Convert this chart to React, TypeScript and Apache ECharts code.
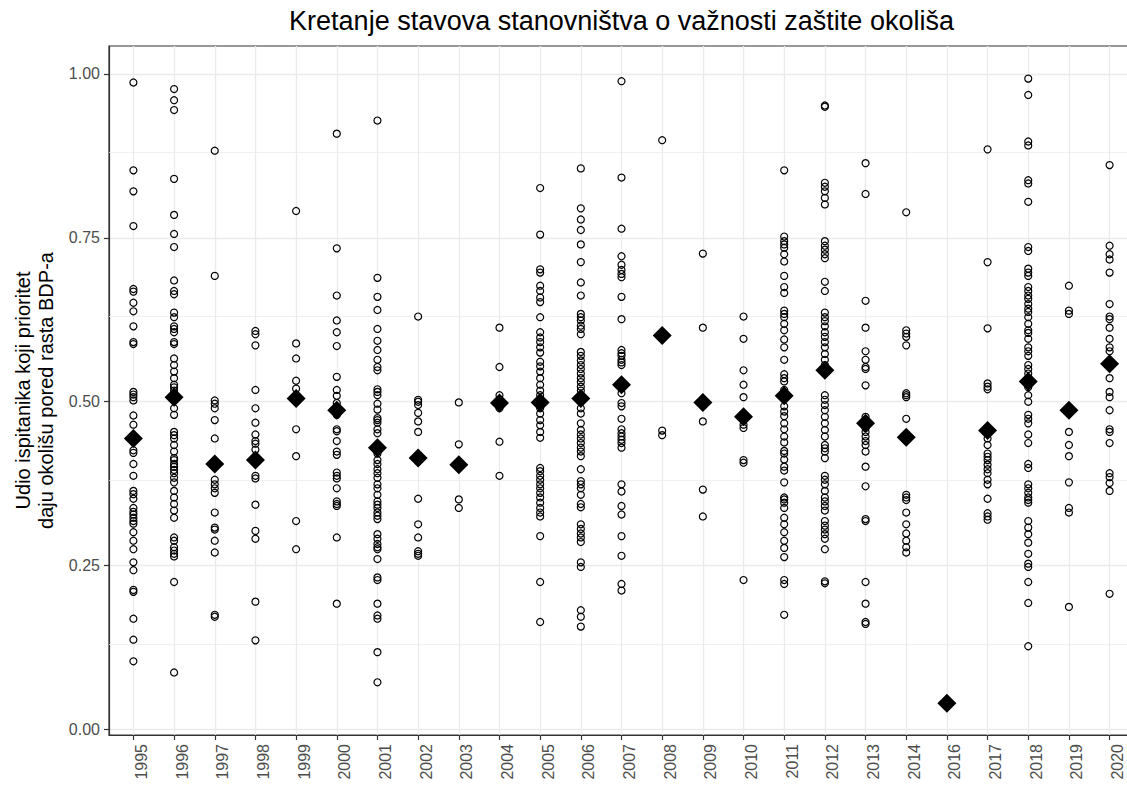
import React, { useEffect, useRef } from "react";
import * as echarts from "echarts";

const FONT = "'Liberation Sans', Arial, Helvetica, sans-serif";

const titleText = "Kretanje stavova stanovništva o važnosti zaštite okoliša";
const yAxisTitle = "Udio ispitanika koji prioritet\ndaju okolišu pored rasta BDP-a";

const years = [
  "1995", "1996", "1997", "1998", "1999", "2000", "2001", "2002", "2003", "2004",
  "2005", "2006", "2007", "2008", "2009", "2010", "2011", "2012", "2013", "2014",
  "2016", "2017", "2018", "2019", "2020",
];
const yTicks = [0, 0.25, 0.5, 0.75, 1];
const yMinor = [0.125, 0.375, 0.625, 0.875];

// mean per year (filled diamonds)
const means = [
  0.444, 0.507, 0.405, 0.411, 0.505, 0.487, 0.43, 0.414, 0.404, 0.498,
  0.499, 0.505, 0.526, 0.601, 0.499, 0.477, 0.509, 0.548, 0.467, 0.446,
  0.04, 0.456, 0.531, 0.487, 0.558,
];

// individual observations (open circles)
const v1995 = [0.987, 0.853, 0.821, 0.768, 0.672, 0.668, 0.651, 0.638, 0.615, 0.591, 0.588, 0.515, 0.511, 0.507, 0.502, 0.479, 0.465, 0.426, 0.422, 0.405, 0.387, 0.364, 0.359, 0.352, 0.338, 0.332, 0.328, 0.323, 0.318, 0.314, 0.301, 0.288, 0.275, 0.255, 0.243, 0.213, 0.21, 0.169, 0.137, 0.104];
const v1996 = [0.977, 0.96, 0.945, 0.84, 0.785, 0.756, 0.736, 0.685, 0.669, 0.664, 0.636, 0.629, 0.615, 0.611, 0.606, 0.591, 0.588, 0.566, 0.556, 0.546, 0.536, 0.526, 0.522, 0.517, 0.511, 0.49, 0.48, 0.454, 0.449, 0.444, 0.434, 0.424, 0.414, 0.411, 0.405, 0.401, 0.396, 0.391, 0.384, 0.377, 0.364, 0.354, 0.344, 0.334, 0.323, 0.293, 0.288, 0.278, 0.273, 0.268, 0.264, 0.225, 0.087];
const v1997 = [0.883, 0.692, 0.502, 0.497, 0.49, 0.472, 0.444, 0.381, 0.374, 0.368, 0.361, 0.331, 0.308, 0.305, 0.288, 0.27, 0.175, 0.172];
const v1998 = [0.608, 0.603, 0.586, 0.518, 0.49, 0.468, 0.45, 0.44, 0.436, 0.427, 0.387, 0.383, 0.343, 0.303, 0.291, 0.195, 0.136];
const v1999 = [0.791, 0.589, 0.566, 0.532, 0.52, 0.51, 0.458, 0.417, 0.318, 0.275];
const v2000 = [0.909, 0.734, 0.662, 0.624, 0.606, 0.585, 0.538, 0.518, 0.509, 0.498, 0.49, 0.48, 0.458, 0.455, 0.44, 0.424, 0.419, 0.392, 0.387, 0.383, 0.368, 0.348, 0.344, 0.341, 0.293, 0.192];
const v2001 = [0.929, 0.689, 0.66, 0.64, 0.611, 0.593, 0.579, 0.564, 0.553, 0.548, 0.519, 0.515, 0.51, 0.497, 0.488, 0.475, 0.472, 0.468, 0.458, 0.452, 0.421, 0.411, 0.405, 0.397, 0.391, 0.384, 0.374, 0.368, 0.358, 0.348, 0.343, 0.338, 0.331, 0.326, 0.321, 0.298, 0.291, 0.283, 0.278, 0.275, 0.26, 0.232, 0.228, 0.192, 0.174, 0.169, 0.118, 0.072];
const v2002 = [0.63, 0.503, 0.5, 0.495, 0.483, 0.47, 0.454, 0.352, 0.313, 0.293, 0.272, 0.268, 0.265];
const v2003 = [0.499, 0.435, 0.351, 0.338];
const v2004 = [0.613, 0.553, 0.51, 0.503, 0.49, 0.439, 0.387];
const v2005 = [0.826, 0.755, 0.702, 0.697, 0.677, 0.669, 0.659, 0.652, 0.629, 0.606, 0.598, 0.591, 0.583, 0.575, 0.561, 0.554, 0.546, 0.536, 0.526, 0.517, 0.51, 0.49, 0.482, 0.472, 0.464, 0.454, 0.445, 0.399, 0.394, 0.387, 0.381, 0.374, 0.368, 0.361, 0.354, 0.346, 0.338, 0.331, 0.325, 0.295, 0.225, 0.164];
const v2006 = [0.856, 0.795, 0.778, 0.762, 0.74, 0.713, 0.682, 0.662, 0.634, 0.629, 0.624, 0.616, 0.611, 0.603, 0.576, 0.57, 0.563, 0.556, 0.55, 0.543, 0.536, 0.53, 0.523, 0.517, 0.51, 0.49, 0.482, 0.467, 0.457, 0.45, 0.444, 0.437, 0.43, 0.424, 0.417, 0.397, 0.379, 0.374, 0.368, 0.358, 0.344, 0.339, 0.313, 0.306, 0.299, 0.293, 0.286, 0.255, 0.248, 0.182, 0.172, 0.157];
const v2007 = [0.989, 0.842, 0.764, 0.722, 0.709, 0.701, 0.695, 0.69, 0.66, 0.626, 0.579, 0.574, 0.57, 0.564, 0.56, 0.556, 0.513, 0.498, 0.493, 0.474, 0.458, 0.452, 0.447, 0.442, 0.437, 0.43, 0.374, 0.363, 0.341, 0.328, 0.295, 0.265, 0.222, 0.212];
const v2008 = [0.899, 0.456, 0.449];
const v2009 = [0.726, 0.613, 0.47, 0.366, 0.325];
const v2010 = [0.63, 0.596, 0.548, 0.526, 0.507, 0.465, 0.46, 0.411, 0.407, 0.228];
const v2011 = [0.853, 0.752, 0.745, 0.74, 0.735, 0.725, 0.714, 0.692, 0.675, 0.666, 0.639, 0.634, 0.629, 0.619, 0.609, 0.595, 0.583, 0.564, 0.542, 0.536, 0.531, 0.518, 0.51, 0.493, 0.485, 0.478, 0.467, 0.458, 0.447, 0.438, 0.425, 0.421, 0.412, 0.401, 0.395, 0.377, 0.354, 0.351, 0.346, 0.338, 0.323, 0.313, 0.301, 0.288, 0.277, 0.263, 0.228, 0.222, 0.175];
const v2012 = [0.952, 0.95, 0.834, 0.828, 0.821, 0.811, 0.801, 0.745, 0.738, 0.732, 0.725, 0.719, 0.683, 0.669, 0.636, 0.629, 0.623, 0.615, 0.606, 0.599, 0.591, 0.583, 0.573, 0.564, 0.556, 0.51, 0.503, 0.495, 0.487, 0.477, 0.467, 0.457, 0.447, 0.434, 0.429, 0.424, 0.414, 0.387, 0.381, 0.374, 0.364, 0.354, 0.348, 0.341, 0.334, 0.318, 0.311, 0.305, 0.298, 0.291, 0.275, 0.226, 0.223];
const v2013 = [0.864, 0.817, 0.654, 0.613, 0.577, 0.564, 0.553, 0.55, 0.525, 0.477, 0.469, 0.46, 0.454, 0.447, 0.44, 0.434, 0.424, 0.401, 0.371, 0.321, 0.318, 0.225, 0.192, 0.164, 0.161];
const v2014 = [0.789, 0.609, 0.604, 0.599, 0.586, 0.513, 0.51, 0.507, 0.474, 0.358, 0.354, 0.35, 0.331, 0.313, 0.299, 0.288, 0.278, 0.27];
const v2016: number[] = [];
const v2017 = [0.885, 0.713, 0.612, 0.528, 0.523, 0.519, 0.444, 0.434, 0.421, 0.416, 0.411, 0.404, 0.397, 0.391, 0.381, 0.374, 0.352, 0.33, 0.325, 0.32];
const v2018 = [0.993, 0.968, 0.897, 0.891, 0.838, 0.833, 0.805, 0.736, 0.73, 0.703, 0.697, 0.692, 0.675, 0.669, 0.662, 0.657, 0.649, 0.642, 0.637, 0.629, 0.619, 0.609, 0.605, 0.596, 0.583, 0.577, 0.57, 0.556, 0.55, 0.543, 0.522, 0.51, 0.5, 0.48, 0.474, 0.467, 0.45, 0.437, 0.405, 0.399, 0.374, 0.368, 0.361, 0.354, 0.35, 0.346, 0.318, 0.308, 0.298, 0.285, 0.268, 0.253, 0.248, 0.225, 0.193, 0.127];
const v2019 = [0.677, 0.639, 0.634, 0.485, 0.454, 0.434, 0.417, 0.377, 0.338, 0.331, 0.187];
const v2020 = [0.861, 0.738, 0.725, 0.717, 0.697, 0.649, 0.63, 0.626, 0.613, 0.596, 0.583, 0.577, 0.56, 0.536, 0.515, 0.507, 0.487, 0.458, 0.454, 0.437, 0.391, 0.385, 0.376, 0.364, 0.207];

const groups = [
  v1995, v1996, v1997, v1998, v1999, v2000, v2001, v2002, v2003, v2004,
  v2005, v2006, v2007, v2008, v2009, v2010, v2011, v2012, v2013, v2014,
  v2016, v2017, v2018, v2019, v2020,
];

export default function App() {
  const ref = useRef<HTMLDivElement>(null);

  useEffect(() => {
    if (!ref.current) return;
    const chart = echarts.init(ref.current, null, { renderer: "svg" });

    const xIdx = years.map((_, i) => i);
    const points: number[][] = [];
    groups.forEach((g, i) => g.forEach((v) => points.push([i, v])));
    const meanPts = means.map((m, i) => [i, m]);

    const gridLeft = 109;
    const gridWidth = 1025;

    chart.setOption({
      animation: false,
      backgroundColor: "#ffffff",
      textStyle: { fontFamily: FONT },
      grid: {
        left: gridLeft,
        top: 46,
        width: gridWidth,
        height: 689,
        show: true,
        backgroundColor: "#ffffff",
        borderColor: "#333333",
        borderWidth: 1.2,
        containLabel: false,
        outerBoundsMode: "none",
      },
      xAxis: {
        type: "value",
        min: -0.6,
        max: 24.6,
        minInterval: 1,
        maxInterval: 1,
        axisLine: { show: true, onZero: false, lineStyle: { color: "#333333", width: 1.2 } },
        axisTick: {
          show: true,
          customValues: xIdx,
          length: 5,
          lineStyle: { color: "#333333", width: 1.2 },
        },
        axisLabel: {
          customValues: xIdx,
          rotate: 90,
          align: "right",
          verticalAlign: "top",
          margin: 9,
          fontSize: 16,
          fontFamily: FONT,
          color: "#4d4d4d",
          formatter: (v: number) => years[Math.round(v)] ?? "",
        },
        splitLine: { show: true, lineStyle: { color: "#ebebeb", width: 1.3 } },
      },
      yAxis: {
        type: "value",
        min: -0.0084,
        max: 1.0427,
        minInterval: 0.25,
        maxInterval: 0.25,
        name: yAxisTitle,
        nameLocation: "middle",
        nameGap: 47,
        nameRotate: 90,
        nameTextStyle: { fontSize: 20, color: "#000000", lineHeight: 23, fontFamily: FONT },
        axisLine: { show: true, onZero: false, lineStyle: { color: "#333333", width: 1.2 } },
        axisTick: {
          show: true,
          customValues: yTicks,
          length: 5,
          lineStyle: { color: "#333333", width: 1.2 },
        },
        axisLabel: {
          customValues: yTicks,
          margin: 9,
          fontSize: 16,
          fontFamily: FONT,
          color: "#4d4d4d",
          formatter: (v: number) => v.toFixed(2),
        },
        splitLine: { show: true, lineStyle: { color: "#ebebeb", width: 1.3 } },
      },
      series: [
        {
          type: "scatter",
          data: points,
          symbol: "circle",
          symbolSize: 7,
          silent: true,
          z: 3,
          itemStyle: { color: "rgba(0,0,0,0)", borderColor: "#000000", borderWidth: 1.2, opacity: 1 },
          markLine: {
            silent: true,
            z: 1,
            symbol: ["none", "none"],
            label: { show: false },
            lineStyle: { color: "#ebebeb", width: 0.7, type: "solid" },
            emphasis: { disabled: true },
            data: yMinor.map((v) => ({ yAxis: v })),
          },
        },
        {
          type: "scatter",
          data: meanPts,
          symbol: "diamond",
          symbolSize: 19,
          silent: true,
          z: 4,
          itemStyle: { color: "#000000", opacity: 1 },
        },
      ],
      graphic: [
        {
          type: "text",
          x: gridLeft + gridWidth / 2,
          y: 21,
          style: {
            text: titleText,
            fontSize: 27,
            fontFamily: FONT,
            fill: "#000000",
            align: "center",
            verticalAlign: "middle",
            textAlign: "center",
            textVerticalAlign: "middle",
          },
        },
      ],
    });

    return () => chart.dispose();
  }, []);

  return (
    <div
      ref={ref}
      style={{ position: "absolute", left: 0, top: 0, width: 1127, height: 787 }}
    />
  );
}
